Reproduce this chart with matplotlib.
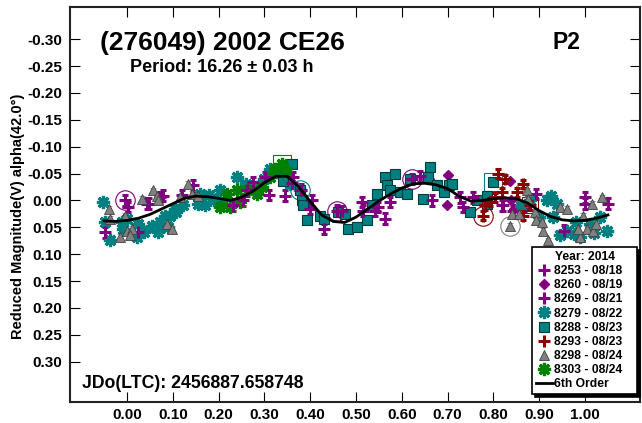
import matplotlib
matplotlib.use("Agg")
import matplotlib.pyplot as plt
from matplotlib.lines import Line2D

plt.rcParams['font.family'] = ['Liberation Sans', 'DejaVu Sans']
plt.rcParams['font.weight'] = 'bold'
plt.rcParams['axes.unicode_minus'] = False

# --- datos (fase, magnitud reducida) ---
s8253_x = [-0.004, 0.003, 0.043, 0.072, 0.079, -0.048, 0.025, 0.047, 0.145, 0.12,
           0.232, 0.254, 0.261, 0.276, 0.301, 0.345, 0.363, 0.31]
s8253_y = [0.000, 0.012, 0.006, -0.006, -0.009, 0.059, 0.059, 0.006, -0.028, -0.010,
           0.009, 0.000, -0.019, -0.034, -0.043, -0.009, -0.043, -0.010]

s8260_x = [0.700, 0.698, 0.836, 0.839, 0.845, 0.870, 0.660]
s8260_y = [-0.047, 0.008, -0.037, 0.000, 0.015, 0.012, -0.040]

s8269_x = [0.403, 0.400, 0.429, 0.458, 0.513, 0.516, 0.541, 0.549, 0.563, 0.574,
           0.622, 0.665, 0.727, 0.734, 0.756, 0.818, 0.821, 0.843, 0.894, 1.000,
           1.000, 1.050, 0.953, 0.380, 0.360, 0.470, 0.640]
s8269_y = [0.000, 0.015, 0.053, 0.019, 0.003, 0.019, 0.019, 0.012, 0.034, 0.003,
           -0.040, 0.000, -0.006, 0.012, -0.006, 0.009, 0.009, 0.019, -0.012, -0.006,
           0.006, 0.006, 0.056, -0.020, -0.033, 0.020, -0.045]

s8279_x = [-0.052, -0.048, -0.037, -0.012, -0.008, 0.025, 0.036, 0.021, 0.054, 0.068,
           0.083, 0.090, 0.108, 0.123, 0.156, 0.072, 0.094, 0.105, 0.159, 0.170,
           0.203, 0.240, 0.210, 0.283, 0.312, 0.327, 0.349, 0.298, 0.000, 0.180,
           0.190, 0.260, 0.355, 0.378, 0.916, 0.938, 0.960, 0.975, 0.989, 1.011,
           1.033, 1.047, 0.900, 0.945, 0.880, 0.860, 0.930, 1.020, 0.980, 0.925]
s8279_y = [0.003, 0.040, 0.074, 0.040, 0.053, 0.043, 0.059, 0.068, 0.047, 0.059,
           0.028, 0.050, 0.022, 0.009, 0.006, 0.040, 0.028, 0.015, -0.012, 0.009,
           -0.019, -0.043, 0.006, -0.025, -0.059, -0.053, -0.043, -0.040, 0.035, -0.010,
           0.000, -0.030, -0.030, -0.019, 0.000, 0.006, 0.056, 0.062, 0.068, 0.043,
           0.031, 0.056, 0.031, 0.065, 0.000, 0.010, 0.030, 0.060, 0.040, -0.008]

s8288_x = [0.345, 0.378, 0.381, 0.385, 0.392, 0.421, 0.429, 0.461, 0.476, 0.483,
           0.502, 0.523, 0.534, 0.545, 0.563, 0.567, 0.574, 0.585, 0.596, 0.611,
           0.618, 0.647, 0.662, 0.658, 0.676, 0.691, 0.702, 0.709, 0.749, 0.764,
           0.785, 0.800, 0.785, 0.341, 0.360]
s8288_y = [-0.065, -0.019, 0.000, 0.009, 0.037, 0.028, 0.034, 0.022, 0.025, 0.053,
           0.050, 0.037, 0.009, -0.012, -0.043, -0.028, -0.019, -0.050, -0.015, -0.012,
           -0.040, -0.003, -0.062, -0.043, -0.028, -0.015, -0.028, -0.031, 0.022, 0.000,
           -0.009, -0.034, 0.006, -0.037, -0.068]

s8293_x = [0.811, 0.825, 0.865, 0.851, 0.818, 0.793, 0.804, 0.778, 0.880, 0.865, 0.782]
s8293_y = [-0.050, -0.040, -0.031, -0.015, -0.015, 0.003, -0.006, 0.028, 0.009, 0.028, 0.009]

s8298_x = [-0.040, -0.037, -0.004, -0.015, 0.000, 0.010, 0.007, 0.032, 0.057, 0.065,
           0.068, 0.087, 0.098, 0.116, 0.134, 0.141, 0.156, 0.873, 0.876, 0.890,
           0.840, 0.855, 0.836, 0.894, 0.909, 0.920, 0.945, 0.960, 0.996, 1.015,
           1.036, 0.989, 1.004, 1.018, 1.025, 0.985, 0.905]
s8298_y = [0.015, 0.034, 0.028, 0.068, 0.056, 0.053, 0.065, -0.003, -0.019, -0.009,
           0.000, 0.043, 0.053, -0.006, -0.031, -0.012, -0.009, -0.019, -0.003, 0.022,
           0.025, 0.025, 0.047, 0.037, 0.056, 0.074, 0.012, 0.016, 0.028, 0.006,
           -0.006, 0.068, 0.053, 0.056, 0.043, 0.053, 0.040]

s8303_x = [0.218, 0.225, 0.240, 0.283, 0.294, 0.312, 0.323, 0.338, 0.349, 0.203, 0.247, 0.265]
s8303_y = [-0.012, 0.012, -0.019, -0.012, -0.025, -0.043, -0.059, -0.068, -0.053, 0.012, 0.003, -0.020]

# curva de ajuste (6th order)
fit_x = [-0.05, -0.025, 0.0, 0.025, 0.05, 0.075, 0.10, 0.125, 0.15, 0.175,
         0.20, 0.225, 0.25, 0.275, 0.30, 0.325, 0.35, 0.375, 0.40, 0.425,
         0.45, 0.475, 0.50, 0.525, 0.55, 0.575, 0.60, 0.625, 0.65, 0.675,
         0.70, 0.725, 0.75, 0.775, 0.80, 0.825, 0.85, 0.875, 0.90, 0.925,
         0.95, 0.975, 1.0, 1.025, 1.05]
fit_y = [0.038, 0.039, 0.037, 0.033, 0.026, 0.016, 0.006, -0.004, -0.008, -0.007,
         -0.004, 0.000, -0.006, -0.017, -0.033, -0.045, -0.045, -0.025, 0.002, 0.027,
         0.039, 0.041, 0.031, 0.016, 0.001, -0.012, -0.023, -0.031, -0.032, -0.029,
         -0.022, -0.008, 0.001, 0.000, -0.003, -0.005, -0.003, 0.005, 0.019, 0.030,
         0.036, 0.038, 0.037, 0.033, 0.027]

yticks = [-0.30, -0.25, -0.20, -0.15, -0.10, -0.05, 0.00, 0.05, 0.10, 0.15, 0.20, 0.25, 0.30]
xticks = [0.0, 0.1, 0.2, 0.3, 0.4, 0.5, 0.6, 0.7, 0.8, 0.9, 1.0]

purple = "#800080"
teal = "#008080"
dred = "#8b0000"
gray = "#808080"
green = "#008000"

fig = plt.figure(figsize=(6.42, 4.23), dpi=100)
ax = fig.add_axes([0.1083, 0.0496, 0.8886, 0.9339])

# estilos de cada sesion
st_plus_p = dict(marker="+", color=purple, ms=9, mew=2.2, ls="none")
st_diam = dict(marker="D", color=purple, ms=5, ls="none")
st_star_t = dict(marker=(8, 2, 0), color=teal, ms=9.5, mew=2.3, ls="none")
st_sq = dict(marker="s", color=teal, mec="#003c3c", ms=7.5, mew=0.8, ls="none")
st_plus_r = dict(marker="+", color=dred, ms=9, mew=2.2, ls="none")
st_tri = dict(marker="^", color=gray, mec="#404040", ms=7.5, mew=0.6, ls="none")
st_star_g = dict(marker=(8, 2, 0), color=green, ms=9.5, mew=2.3, ls="none")

ax.errorbar(s8253_x, s8253_y, yerr=0.01, ecolor=purple, elinewidth=0.8, capsize=2.5, zorder=3, **st_plus_p)
ax.plot(s8260_x, s8260_y, zorder=3, **st_diam)
ax.errorbar(s8269_x, s8269_y, yerr=0.01, ecolor=purple, elinewidth=0.8, capsize=2.5, zorder=3, **st_plus_p)
ax.plot(s8279_x, s8279_y, zorder=3, **st_star_t)
ax.plot(s8288_x, s8288_y, zorder=3, **st_sq)
ax.errorbar(s8293_x, s8293_y, yerr=0.008, ecolor=dred, elinewidth=0.8, capsize=2.5, zorder=3, **st_plus_r)
ax.errorbar(s8298_x, s8298_y, yerr=0.005, ecolor=gray, elinewidth=0.8, capsize=2, zorder=3, **st_tri)
ax.plot(s8303_x, s8303_y, zorder=3, **st_star_g)
ax.plot(fit_x, fit_y, color="black", lw=2, zorder=4)

# puntos marcados (circulos y cuadros)
ax.plot(s8253_x[0], s8253_y[0], "o", mfc="none", mec=purple, ms=14, mew=0.8)
ax.plot(s8269_x[3], s8269_y[3], "o", mfc="none", mec=purple, ms=14, mew=0.8)
ax.plot(s8269_x[10], s8269_y[10], "o", mfc="none", mec=purple, ms=14, mew=0.8)
ax.plot(s8279_x[33], s8279_y[33], "o", mfc="none", mec=teal, ms=14, mew=0.8)
ax.plot(s8293_x[7], s8293_y[7], "o", mfc="none", mec=dred, ms=14, mew=0.8)
ax.plot(s8298_x[22], s8298_y[22], "o", mfc="none", mec=gray, ms=14, mew=0.8)
ax.plot(s8288_x[31], s8288_y[31], "s", mfc="none", mec=teal, ms=13, mew=0.8)
ax.plot(s8303_x[7], s8303_y[7], "s", mfc="none", mec=green, ms=13, mew=0.8)
ax.plot(s8293_x[8], s8293_y[8], "s", mfc="none", mec=dred, ms=11, mew=0.8)

ax.set_xlim(-0.1255, 1.12)
ax.set_ylim(0.375, -0.36)
ax.set_xticks(xticks)
ax.set_yticks(yticks)
ax.set_xticklabels(["%.2f" % v for v in xticks])
ax.set_yticklabels(["%.2f" % v for v in yticks])
ax.tick_params(direction="in", length=7, width=0.8, top=True, right=True,
               labelsize=11, colors="black")
ax.tick_params(axis="x", pad=4)
ax.tick_params(axis="y", pad=5)
for sp in ax.spines.values():
    sp.set_linewidth(1.5)
    sp.set_color("#222222")

fig.text(18 / 642, 0.488, "Reduced Magnitude(V) alpha(42.0°)", rotation=90,
         ha="center", va="center", fontsize=10.5, fontweight="bold")

ax.text(0.053, 0.909, "(276049) 2002 CE26", transform=ax.transAxes,
        fontsize=19, fontweight="bold", va="center", ha="left")
ax.text(0.106, 0.848, "Period: 16.26 ± 0.03 h", transform=ax.transAxes,
        fontsize=13, fontweight="bold", va="center", ha="left")
ax.text(0.847, 0.911, "P2", transform=ax.transAxes,
        fontsize=16.5, fontweight="bold", va="center", ha="left")
ax.text(0.022, 0.048, "JDo(LTC): 2456887.658748", transform=ax.transAxes,
        fontsize=12.7, fontweight="bold", va="center", ha="left")

handles = [Line2D([], [], **st_plus_p), Line2D([], [], **st_diam),
           Line2D([], [], **st_plus_p), Line2D([], [], **st_star_t),
           Line2D([], [], **st_sq), Line2D([], [], **st_plus_r),
           Line2D([], [], **st_tri), Line2D([], [], **st_star_g),
           Line2D([], [], color="black", lw=2)]
labels = ["8253 - 08/18", "8260 - 08/19", "8269 - 08/21", "8279 - 08/22",
          "8288 - 08/23", "8293 - 08/23", "8298 - 08/24", "8303 - 08/24", "6th Order"]
leg = ax.legend(handles, labels, loc="lower left", bbox_to_anchor=(0.8107, 0.02, 0.184, 0.3),
                mode="expand", borderaxespad=0, title="Year: 2014", fontsize=8.7,
                title_fontsize=8.7, frameon=True, fancybox=False,
                shadow={"color": "black", "alpha": 1},
                handlelength=1.4, handletextpad=0.15, labelspacing=0.18,
                borderpad=0.3, numpoints=1)
leg.get_frame().set_edgecolor("black")
leg.get_frame().set_linewidth(1.2)
leg.get_title().set_fontweight("bold")
for t in leg.get_texts():
    t.set_fontweight("bold")

fig.savefig("out.png", dpi=100)
